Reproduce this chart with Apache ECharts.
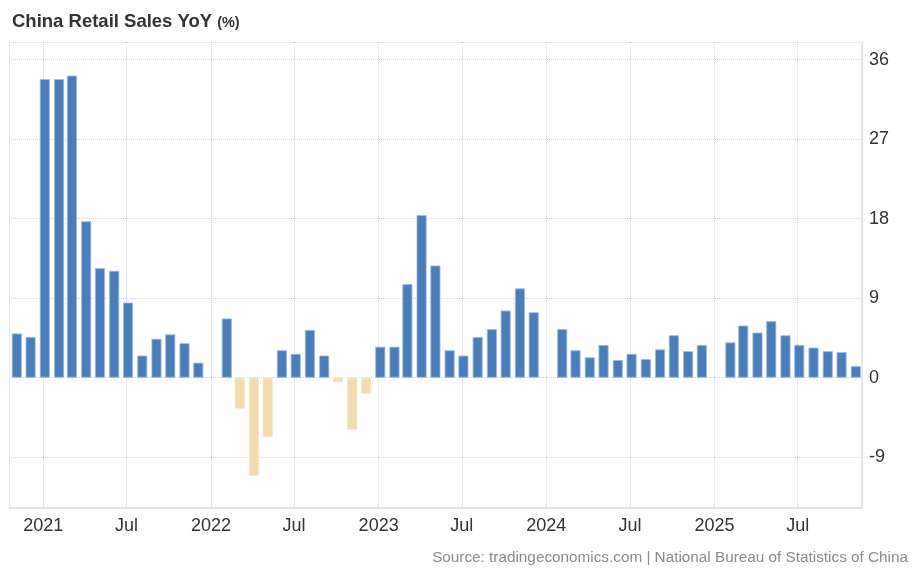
<!DOCTYPE html>
<html>
<head>
<meta charset="utf-8">
<script src="https://cdn.jsdelivr.net/npm/echarts@6/dist/echarts.min.js"></script>
<style>
html,body{margin:0;padding:0;background:#fff;}
#main{width:912px;height:568px;}
</style>
</head>
<body>
<div id="main"></div>
<script>
// ---- data ----
const months = [
  '2020-11','2020-12',
  '2021-01','2021-02','2021-03','2021-04','2021-05','2021-06','2021-07','2021-08','2021-09','2021-10','2021-11','2021-12',
  '2022-01','2022-02','2022-03','2022-04','2022-05','2022-06','2022-07','2022-08','2022-09','2022-10','2022-11','2022-12',
  '2023-01','2023-02','2023-03','2023-04','2023-05','2023-06','2023-07','2023-08','2023-09','2023-10','2023-11','2023-12',
  '2024-01','2024-02','2024-03','2024-04','2024-05','2024-06','2024-07','2024-08','2024-09','2024-10','2024-11','2024-12',
  '2025-01','2025-02','2025-03','2025-04','2025-05','2025-06','2025-07','2025-08','2025-09','2025-10','2025-11'
];
const salesYoY = [
  5.0, 4.6,
  33.8, 33.8, 34.2, 17.7, 12.4, 12.1, 8.5, 2.5, 4.4, 4.9, 3.9, 1.7,
  null, 6.7, -3.5, -11.1, -6.7, 3.1, 2.7, 5.4, 2.5, -0.5, -5.9, -1.8,
  3.5, 3.5, 10.6, 18.4, 12.7, 3.1, 2.5, 4.6, 5.5, 7.6, 10.1, 7.4,
  null, 5.5, 3.1, 2.3, 3.7, 2.0, 2.7, 2.1, 3.2, 4.8, 3.0, 3.7,
  null, 4.0, 5.9, 5.1, 6.4, 4.8, 3.7, 3.4, 3.0, 2.9, 1.3
];
const xTicks = ['2021-01-01','2021-07-01','2022-01-01','2022-07-01','2023-01-01','2023-07-01','2024-01-01','2024-07-01','2025-01-01','2025-07-01'];
const yTicks = [-9, 0, 9, 18, 27, 36];
const yMin = -14.75, yMax = 38;
const xMin = '2020-10-18T12:00:00', xMax = '2025-11-18T00:00:00';

const FONT = "'Liberation Sans', Arial, sans-serif";
const POS = '#4A7EBB', POS_B = '#98B9E0';
const NEG = '#F3DBB0', NEG_B = '#F6E3C2';

const ts = s => new Date(s).getTime();
const barData = [];
months.forEach((m, i) => {
  const v = salesYoY[i];
  if (v === null) return;
  barData.push({
    value: [ts(m + '-04T12:00:00'), v],
    itemStyle: {color: v < 0 ? NEG : POS, borderColor: v < 0 ? NEG_B : POS_B, borderWidth: 0.8}
  });
});
const xTickVals = xTicks.map(d => ts(d + 'T00:00:00'));

const chart = echarts.init(document.getElementById('main'), null, {renderer: 'canvas'});
chart.setOption({
  animation: false,
  backgroundColor: '#fff',
  textStyle: {fontFamily: FONT},
  title: {
    text: '{a|China Retail Sales YoY} {b|(%)}',
    left: 7, top: 7,
    textStyle: {
      rich: {
        a: {fontSize: 18.5, fontWeight: 'bold', color: '#333', fontFamily: FONT},
        b: {fontSize: 14.5, fontWeight: 'bold', color: '#333', fontFamily: FONT, padding: [3, 0, 0, 0]}
      }
    }
  },
  grid: {left: 9, right: 50, top: 42, bottom: 60, containLabel: false, outerBoundsMode: 'none'},
  xAxis: {
    type: 'value',
    min: ts(xMin), max: ts(xMax),
    axisLine: {show: true, onZero: false, lineStyle: {color: '#dcdcdc', width: 1.5}},
    axisTick: {show: false, customValues: xTickVals},
    splitLine: {show: true, lineStyle: {color: '#d6d6d6', type: 'dotted', width: 1}},
    axisLabel: {
      customValues: xTickVals,
      color: '#333', fontSize: 18, fontFamily: FONT, margin: 9,
      formatter: function (v) {
        const d = new Date(v);
        return d.getMonth() === 0 ? String(d.getFullYear()) : 'Jul';
      }
    }
  },
  yAxis: [{
    type: 'value',
    position: 'right',
    min: yMin, max: yMax,
    axisLine: {show: true, lineStyle: {color: '#dcdcdc', width: 1.5}},
    axisTick: {show: false, customValues: yTicks.concat([yMax])},
    splitLine: {show: true, lineStyle: {color: '#d6d6d6', type: 'dotted', width: 1}},
    axisLabel: {customValues: yTicks, color: '#333', fontSize: 18, fontFamily: FONT, margin: 7}
  }, {
    type: 'value',
    position: 'left',
    min: yMin, max: yMax,
    axisLine: {show: true, lineStyle: {color: '#e6e6e6', width: 1}},
    axisTick: {show: false},
    axisLabel: {show: false},
    splitLine: {show: false}
  }],
  series: [{
    type: 'bar',
    yAxisIndex: 0,
    barWidth: 10,
    data: barData
  }],
  graphic: [{
    type: 'text',
    right: 4, top: 550,
    style: {
      text: 'Source: tradingeconomics.com | National Bureau of Statistics of China',
      fill: '#8a8a8a',
      font: "15.3px 'Liberation Sans', Arial, sans-serif"
    }
  }]
});
</script>
</body>
</html>
